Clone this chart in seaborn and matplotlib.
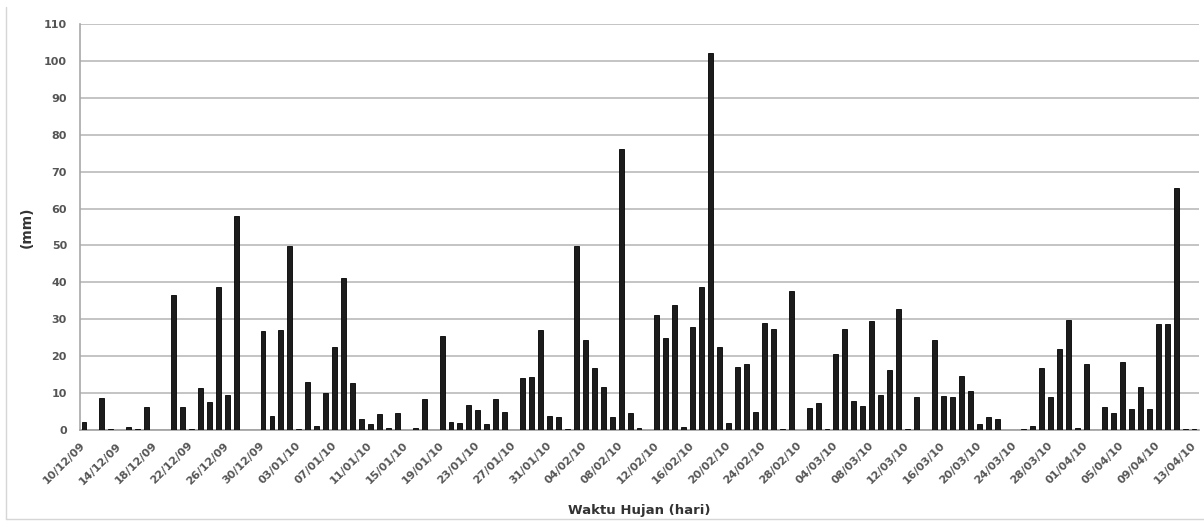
#!/usr/bin/env python3
"""
Daily rainfall bar chart, 10/12/09 - 13/04/10.
"""

import pandas as pd
import matplotlib
matplotlib.use('Agg')
import matplotlib.pyplot as plt
from matplotlib.lines import Line2D
import seaborn as sns

# Period shown on the category axis
start_date = '2009-12-10'
end_date = '2010-04-13'

# Daily rainfall (mm), one list per month
rain_dec = [2.1, 0.0, 8.7, 0.3, 0.0, 0.9, 0.2, 6.2, 0.0, 0.0, 36.7,
            6.2, 0.3, 11.4, 7.5, 38.8, 9.4, 57.9, 0.0, 0.0, 26.9, 3.8]
rain_jan = [27.1, 49.9, 0.2, 13.1, 1.2, 9.9, 22.4, 41.3, 12.8, 2.9, 1.6,
            4.2, 0.5, 4.7, 0.0, 0.6, 8.4, 0.0, 25.5, 2.3, 1.8, 6.8,
            5.3, 1.5, 8.4, 4.8, 0.0, 14.2, 14.4, 27.1, 3.8]
rain_feb = [3.5, 0.2, 49.8, 24.3, 16.9, 11.7, 3.6, 76.0, 4.7, 0.6, 0.0,
            31.1, 24.9, 34.0, 0.8, 27.8, 38.7, 102.2, 22.5, 1.8, 17.1,
            17.8, 4.9, 29.1, 27.4, 0.2, 37.7, 0.0]
rain_mar = [5.9, 7.3, 0.3, 20.6, 27.5, 7.9, 6.6, 29.4, 9.4, 16.3, 32.8,
            0.2, 9.0, 0.0, 24.3, 9.3, 8.9, 14.6, 10.5, 1.7, 3.5, 3.0,
            0.0, 0.0, 0.2, 1.2, 16.9, 9.0, 21.9, 29.7, 0.6]
rain_apr = [17.8, 0.1, 6.1, 4.5, 18.3, 5.8, 11.6, 5.8, 28.8, 28.8, 65.5,
            0.2, 0.2]

tick_step = 4
y_ticks = list(range(0, 111, 10))


def build_frame():
    """Put the dates and rainfall values into one DataFrame"""
    dates = pd.date_range(start_date, end_date, freq='D')
    rain = rain_dec + rain_jan + rain_feb + rain_mar + rain_apr
    df = pd.DataFrame({'tanggal': dates.strftime('%d/%m/%y'), 'hujan': rain})
    return df


def plot_rain(df, save_path='out.png'):
    """Draw the rainfall bars"""
    sns.set_theme(style='white')
    plt.rcParams['font.family'] = ['DejaVu Sans']

    fig = plt.figure(figsize=(12.04, 5.21), dpi=100)
    ax = fig.add_axes([79.5 / 1204, 91 / 521, 1119 / 1204, 406 / 521])

    sns.barplot(data=df, x='tanggal', y='hujan', color='#1c1c1c',
                edgecolor='#000000', linewidth=0.6, width=0.55,
                saturation=1, ax=ax, zorder=3)

    # Gridlines and axes
    ax.set_ylim(0, 110)
    ax.set_xlim(-0.5, len(df) - 0.5)
    ax.set_yticks(y_ticks)
    ax.yaxis.grid(True, color='#c4c4c4', linewidth=1.4, zorder=0)
    ax.set_axisbelow(True)
    for side in ['top', 'right']:
        ax.spines[side].set_visible(False)
    ax.spines['left'].set_color('#a8a8a8')
    ax.spines['bottom'].set_color('#a0a0a0')
    ax.spines['left'].set_linewidth(1.2)
    ax.spines['bottom'].set_linewidth(1.2)

    positions = list(range(0, len(df), tick_step))
    ax.set_xticks(positions)
    ax.set_xticklabels(df['tanggal'].iloc[positions], rotation=45,
                       ha='right', va='center', rotation_mode='anchor',
                       fontsize=8, fontweight='bold', color='#555555')
    ax.tick_params(axis='x', length=0, pad=10)
    ax.tick_params(axis='y', length=3, width=1, color='#a8a8a8', pad=6,
                   labelsize=8, labelcolor='#555555')
    for label in ax.get_yticklabels():
        label.set_fontweight('bold')

    ax.set_xlabel('Waktu Hujan (hari)', fontsize=9.5, fontweight='bold',
                  color='#333333', labelpad=13)
    ax.set_ylabel('(mm)', fontsize=10, fontweight='bold', color='#333333',
                  labelpad=7)

    # Thin chart frame on the left and bottom
    fig.add_artist(Line2D([6 / 1204, 6 / 1204], [2 / 521, 514 / 521],
                          color='#d6d6d6', linewidth=1))
    fig.add_artist(Line2D([6 / 1204, 1.0], [2 / 521, 2 / 521],
                          color='#d6d6d6', linewidth=1))

    fig.savefig(save_path, dpi=100, facecolor='white')
    plt.close(fig)


def main():
    df = build_frame()
    plot_rain(df)


if __name__ == '__main__':
    main()
